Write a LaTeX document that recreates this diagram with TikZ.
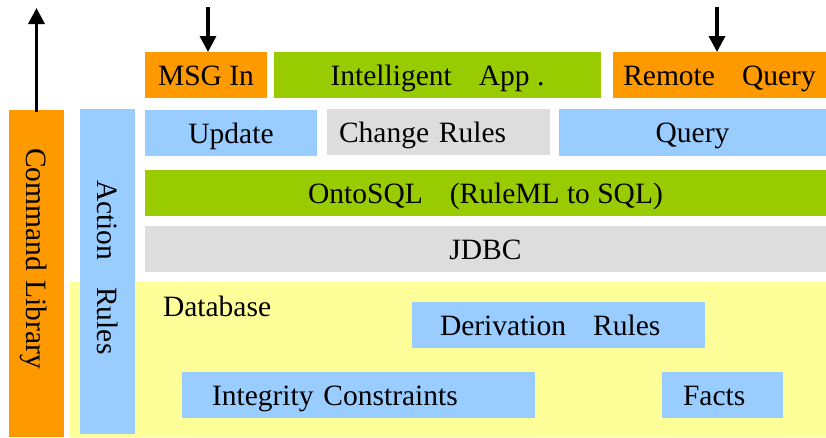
\documentclass[tikz,border=0pt]{standalone}
\usepackage{fontspec}
\setmainfont{Liberation Serif}
\usetikzlibrary{arrows.meta}
\definecolor{cOrange}{HTML}{FF9900}
\definecolor{cGreen}{HTML}{99CC00}
\definecolor{cBlue}{HTML}{99CCFF}
\definecolor{cGray}{HTML}{DDDDDD}
\definecolor{cYellow}{HTML}{FFFF99}
% wide gap between words inside a label
\newcommand\wgap{\hspace*{27pt}\ignorespaces}
\begin{document}
\begin{tikzpicture}[x=1pt,y=-1pt,
  box/.style={inner sep=0pt, outer sep=0pt, text=black,
    font=\fontsize{29.5}{32}\selectfont, text height=22pt, text depth=2pt},
  % box of width #1, height #2
  sz/.style 2 args={minimum width=#1, minimum height=#2},
  % left-aligned text: box width #1, left padding #2
  lpad/.style 2 args={inner xsep=#2, text width=#1-2*#2, align=left},
  orangebox/.style={box, fill=cOrange},
  greenbox/.style={box, fill=cGreen},
  bluebox/.style={box, fill=cBlue},
  graybox/.style={box, fill=cGray},
  yellowbox/.style={box, fill=cYellow},
  arr/.style={line width=3.4pt, -{Triangle[length=16pt,width=16pt]}}]
\useasboundingbox (0,0) rectangle (826,437);

% top row
\node[orangebox, sz={122pt}{46pt}] (msg) at (206,75) {MSG In};
\node[greenbox, sz={327pt}{46pt}] (app) at (437.5,75) {Intelligent\wgap App .};
\node[orangebox, sz={213pt}{46pt}] (remote) at (719.5,75) {Remote\wgap Query};

% second row
\node[bluebox, sz={172pt}{46pt}] (update) at (231,133) {Update};
\node[graybox, sz={223pt}{46pt}, lpad={223pt}{12pt}] (change) at (438.5,132) {Change Rules};
\node[bluebox, sz={267pt}{47pt}] (query) at (692.5,132.5) {Query};

% full-width layers
\node[greenbox, sz={681pt}{46pt}] (onto) at (485.5,193) {OntoSQL\wgap(RuleML to SQL)};
\node[graybox, sz={681pt}{46pt}] (jdbc) at (485.5,249) {JDBC};

% database
\node[yellowbox, sz={756pt}{155pt}] (db) at (448,359.5) {};
\node[box, anchor=base west] (dblabel) at (163,316) {Database};
\node[bluebox, sz={293pt}{46pt}, lpad={293pt}{28pt}] (deriv) at (558.5,325) {Derivation\wgap Rules};
\node[bluebox, sz={353pt}{46pt}, lpad={353pt}{30pt}] (integ) at (358.5,395) {Integrity Constraints};
\node[bluebox, sz={121pt}{46pt}, lpad={121pt}{21pt}] (facts) at (722.5,395) {Facts};

% vertical bars
\node[orangebox, rotate=-90, sz={327pt}{55pt}, lpad={327pt}{38pt}] (cmd) at (36.5,273.5) {Command Library};
\node[bluebox, rotate=-90, sz={325pt}{55pt}, lpad={325pt}{71pt}] (action) at (107.5,271.5) {Action\wgap Rules};

% arrows
\coordinate (cmdOut) at (36.5,8);
\coordinate (msgIn) at (208,7);
\coordinate (remIn) at (717,7);
\draw[arr] ([yshift=-2pt]cmd.west) -- (cmdOut);
\draw[arr] (msgIn) -- (msgIn |- msg.north);
\draw[arr] (remIn) -- (remIn |- remote.north);
\end{tikzpicture}
\end{document}
